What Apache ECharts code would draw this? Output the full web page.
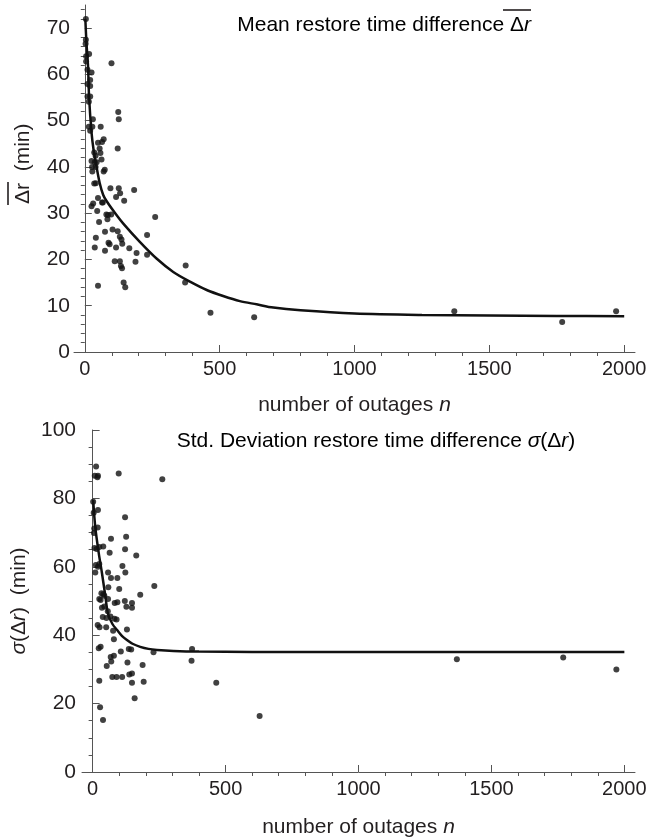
<!DOCTYPE html>
<html>
<head>
<meta charset="utf-8">
<script src="https://cdn.jsdelivr.net/npm/echarts@6/dist/echarts.min.js"></script>
<style>html,body{margin:0;padding:0;background:#fff}#c{width:650px;height:840px}</style>
</head>
<body>
<div id="c"></div>
<script>
// ---- data (n = number of outages, value in minutes) ----
const meanPoints = [
  [4,72.0],[4,67.5],[3,66.6],[5,63.9],[16,64.4],[5,62.8],[10,61.0],[25,60.4],[20,58.8],[10,57.9],
  [20,57.5],[10,55.2],[20,55.2],[15,54.1],[30,50.3],[15,48.7],[28,48.7],[59,48.7],[20,47.8],[70,46.0],
  [64,45.4],[49,45.2],[55,44.0],[58,43.0],[35,43.1],[40,42.4],[62,41.6],[25,41.3],[37,41.0],[44,41.0],
  [27,40.0],[40,40.0],[28,39.0],[74,39.4],[70,39.0],[35,36.4],[41,36.5],[99,62.4],[124,51.9],[126,50.3],
  [122,44.0],[95,35.4],[126,35.4],[131,34.3],[183,35.0],[116,33.5],[49,33.3],[146,32.7],
  [25,31.5],[31,32.1],[64,32.3],[67,32.3],[46,30.5],[80,29.7],[86,29.6],[98,29.7],[84,28.7],[53,28.1],
  [261,29.2],[75,26.0],[103,26.5],[122,26.1],[41,24.7],[130,24.9],[136,24.3],[88,23.6],[92,23.3],[139,23.4],
  [231,25.3],[37,22.6],[116,22.6],[165,22.4],[75,21.9],[192,21.4],[231,21.0],[111,19.6],[130,19.6],[188,19.5],
  [134,18.6],[138,18.1],[374,18.7],[372,15.0],[49,14.3],[144,15.0],[150,14.0],[466,8.5],[628,7.5],
  [1370,8.8],[1770,6.5],[1970,8.8]
];
const meanFit = [
  [2,72],[6,67],[12,61.8],[16,55],[25,47.4],[33,43.5],[43,40.2],[55,36.6],[68,34],[80,32.7],
  [110,30.2],[142,27.8],[204,23.8],[266,20.2],[328,17.3],[390,15.2],[452,13.4],[513,12.1],[575,11.0],
  [637,10.3],[699,9.6],[800,9.0],[1000,8.3],[1250,8.0],[1500,7.9],[1750,7.8],[2000,7.7]
];
const sdPoints = [
  [13,89.3],[8,86.6],[20,86.6],[18,86.2],[98,87.3],[262,85.6],[2,79.0],[4,75.8],[20,76.6],[6,71.2],
  [19,71.5],[5,69.9],[122,74.5],[126,68.8],[69,68.2],[7,65.5],[15,65.2],[25,65.8],[40,65.9],[122,65.1],
  [64,64.1],[164,63.3],[12,60.5],[20,60.0],[25,60.8],[112,60.2],[123,58.3],[10,58.3],[58,58.3],[69,56.7],
  [93,56.7],[59,54.0],[100,53.5],[232,54.4],[179,51.8],[33,52.3],[40,52.0],[44,51.5],[25,50.6],[30,50.3],
  [58,50.6],[83,49.4],[93,49.6],[121,50.0],[127,48.3],[148,49.4],[148,48.0],[35,48.0],[44,48.4],[57,47.0],
  [38,45.3],[52,45.0],[67,45.5],[82,44.8],[90,44.6],[19,43.0],[26,42.3],[51,42.3],[77,41.3],[129,41.7],
  [23,36.2],[30,36.6],[106,35.2],[80,38.8],[136,36.0],[145,35.8],[229,35.0],[374,36.0],[372,32.5],[68,33.6],
  [80,34.0],[70,32.3],[53,31.0],[131,32.0],[188,31.3],[74,27.8],[90,27.8],[111,27.8],[138,28.5],[148,28.8],
  [148,26.1],[192,26.4],[25,26.7],[465,26.1],[158,21.6],[28,18.9],[39,15.2],[628,16.4],
  [1370,33.0],[1770,33.5],[1970,30.0]
];
const sdFit = [
  [2,79.5],[10,71.5],[23,64],[35,58.2],[48,51.3],[58,46.2],[75,43.2],[92,41.5],[110,39.8],[129,38.6],
  [150,37.5],[179,36.6],[210,36.0],[242,35.7],[304,35.4],[400,35.2],[600,35.1],[1000,35.1],[2000,35.1]
];
// ---- ticks ----
const xMajor = [0,500,1000,1500,2000];
const xMinor = [100,200,300,400,600,700,800,900,1100,1200,1300,1400,1600,1700,1800,1900];
const meanYMajor = [0,10,20,30,40,50,60,70];
const meanYMinor = [2,4,6,8,12,14,16,18,22,24,26,28,32,34,36,38,42,44,46,48,52,54,56,58,62,64,66,68,72,74];
const sdYMajor = [0,20,40,60,80,100];
const sdYMinor = [5,10,15,25,30,35,45,50,55,65,70,75,85,90,95];

const FONT = 'Liberation Sans';
const AX = '#555';
const TXT = '#231f20';
const INK = '#111';

function xAxes(grid, nameGap) {
  return [
    { gridIndex: grid, type: 'value', min: -40, max: 2040,
      axisLine: { show: true, lineStyle: { color: AX, width: 1 } },
      axisTick: { show: true, inside: true, length: 7, customValues: xMajor, lineStyle: { color: AX } },
      axisLabel: { show: true, customValues: xMajor, margin: 7, fontSize: 20, fontFamily: FONT, color: TXT,
        formatter: v => String(v) },
      splitLine: { show: false },
      name: 'number of outages {i|n}', nameLocation: 'middle', nameGap: nameGap,
      nameTextStyle: { fontSize: 21, fontFamily: FONT, color: TXT,
        rich: { i: { fontStyle: 'italic', fontSize: 21, fontFamily: FONT, color: TXT } } } },
    { gridIndex: grid, type: 'value', min: -40, max: 2040,
      axisLine: { show: false },
      axisTick: { show: true, inside: true, length: 4, customValues: xMinor, lineStyle: { color: AX } },
      axisLabel: { show: false }, splitLine: { show: false } }
  ];
}
function yAxes(grid, max, major, minor, margin, name, nameGap) {
  return [
    { gridIndex: grid, type: 'value', min: 0, max: max,
      axisLine: { show: true, lineStyle: { color: AX, width: 1 } },
      axisTick: { show: true, inside: true, length: 7, customValues: major, lineStyle: { color: AX } },
      axisLabel: { show: true, customValues: major, margin: margin, fontSize: 21, fontFamily: FONT, color: TXT },
      splitLine: { show: false },
      name: name, nameLocation: 'middle', nameGap: nameGap,
      nameTextStyle: { fontSize: 21, fontFamily: FONT, color: TXT, rich: rich } },
    { gridIndex: grid, type: 'value', min: 0, max: max,
      axisLine: { show: false },
      axisTick: { show: true, inside: true, length: 4, customValues: minor, lineStyle: { color: AX } },
      axisLabel: { show: false }, splitLine: { show: false } }
  ];
}
const rich = {
  i: { fontFamily: FONT, fontSize: 21, fontStyle: 'italic', color: TXT },
  t: { fontFamily: FONT, fontSize: 21, color: TXT }
};

const chart = echarts.init(document.getElementById('c'), null, { renderer: 'canvas' });
chart.setOption({
  animation: false,
  backgroundColor: '#fff',
  grid: [
    { left: 74, top: 5, width: 561, height: 347 },
    { left: 82, top: 430, width: 553, height: 342 }
  ],
  xAxis: [...xAxes(0, 43), ...xAxes(1, 45)],
  yAxis: [
    ...yAxes(0, 75, meanYMajor, meanYMinor, 4, '', 40),
    ...yAxes(1, 100, sdYMajor, sdYMinor, 6, '{i|\u03c3}{t|(\u0394}{i|r}{t|)  (min)}', 51)
  ],
  graphic: [
    { type: 'text', x: 531, y: 25, style: { text: '{t|Mean restore time difference \u0394}{i|r}',
      rich: rich, align: 'right', verticalAlign: 'middle' } },
    { type: 'line', shape: { x1: 503, y1: 10, x2: 531, y2: 10 }, style: { stroke: TXT, lineWidth: 1.6 } },
    { type: 'text', x: 376, y: 441, style: { text: '{t|Std. Deviation restore time difference }{i|\u03c3}{t|(\u0394}{i|r}{t|)}',
      rich: rich, align: 'center', verticalAlign: 'middle' } },
    { type: 'group', x: 23, y: 204, rotation: Math.PI / 2, children: [
      { type: 'text', x: 0, y: 0, style: { text: '\u0394r  (min)', font: '21px "Liberation Sans"', fill: TXT,
        align: 'left', verticalAlign: 'middle' } },
      { type: 'line', shape: { x1: -1, y1: -15, x2: 22, y2: -15 }, style: { stroke: TXT, lineWidth: 1.6 } }
    ] }
  ],
  series: [
    { type: 'scatter', xAxisIndex: 0, yAxisIndex: 0, data: meanPoints, symbolSize: 6,
      itemStyle: { color: INK }, z: 3 },
    { type: 'line', xAxisIndex: 0, yAxisIndex: 0, data: meanFit, smooth: 0.3, showSymbol: false,
      lineStyle: { color: INK, width: 2.5 }, z: 2 },
    { type: 'scatter', xAxisIndex: 2, yAxisIndex: 2, data: sdPoints, symbolSize: 6,
      itemStyle: { color: INK }, z: 3 },
    { type: 'line', xAxisIndex: 2, yAxisIndex: 2, data: sdFit, smooth: 0.3, showSymbol: false,
      lineStyle: { color: INK, width: 2.5 }, z: 2 }
  ]
});
</script>
</body>
</html>
